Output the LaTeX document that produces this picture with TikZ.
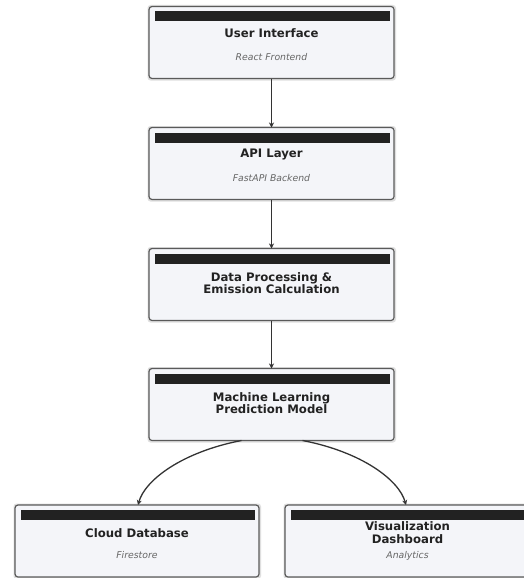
\documentclass[tikz,border=0pt]{standalone}
\usepackage{fontspec}
\setmainfont{DejaVu Sans}
\usetikzlibrary{arrows.meta,positioning,calc}
\definecolor{boxfill}{HTML}{F4F5F9}
\definecolor{boxline}{HTML}{5A5A5A}
\definecolor{barcol}{HTML}{222222}
\definecolor{subcol}{HTML}{666666}
\definecolor{edgecol}{HTML}{333333}
\tikzset{
  card/.style={draw=boxline, line width=1.2pt, fill=boxfill, rounded corners=3pt,
    minimum width=245pt, minimum height=72pt, inner sep=0pt, outer sep=0pt},
  ttl/.style={font=\fontsize{11.7}{12.3}\selectfont\bfseries, text=barcol, align=center, inner sep=0pt},
  sub/.style={font=\fontsize{9.3}{10}\selectfont\itshape, text=subcol, inner sep=0pt},
  flow/.style={draw=edgecol, line width=1.3pt, -{Stealth[length=5pt,width=5pt]}},
}
\newcommand{\cardbar}[1]{%
  \fill[gray!25, rounded corners=3pt] ([xshift=-1.5pt,yshift=1.5pt]#1.north west) rectangle ([xshift=2pt,yshift=-2pt]#1.south east);
}
\newcommand{\cardtop}[1]{%
  \fill[barcol] ([xshift=5.5pt,yshift=-5pt]#1.north west) rectangle ([xshift=-4.5pt,yshift=-15pt]#1.north east);
}
\begin{document}
\begin{tikzpicture}[x=1pt,y=-1pt]
\useasboundingbox (0,0) rectangle (524,578);
\fill[white] (0,0) rectangle (524,578);
\path (271.5,42.5) coordinate (c1) (271.5,163.5) coordinate (c2) (271.5,284.5) coordinate (c3)
      (271.5,404.5) coordinate (c4) (137,541) coordinate (c5) (407.5,541) coordinate (c6);
\node[card, draw=none, fill=none] (ui) at (c1) {};
\node[card, draw=none, fill=none] (api) at (c2) {};
\node[card, draw=none, fill=none] (dp) at (c3) {};
\node[card, draw=none, fill=none] (ml) at (c4) {};
\node[card, draw=none, fill=none, minimum width=244pt] (db) at (c5) {};
\node[card, draw=none, fill=none] (viz) at (c6) {};
\foreach \n in {ui,api,dp,ml,db,viz}{\cardbar{\n}}
\node[card] at (c1) {};
\node[card] at (c2) {};
\node[card] at (c3) {};
\node[card] at (c4) {};
\node[card, minimum width=244pt] at (c5) {};
\node[card] at (c6) {};
\foreach \n in {ui,api,dp,ml,db,viz}{\cardtop{\n}}
% texts
\node[ttl] (uit) at ([yshift=-27pt]ui.north) {User Interface};
\node[sub] (uis) at ([yshift=-50.5pt]ui.north) {React Frontend};
\node[ttl] (apit) at ([yshift=-27pt]api.north) {API Layer};
\node[sub] (apis) at ([yshift=-50.5pt]api.north) {FastAPI Backend};
\node[ttl] (dpt) at ([yshift=-34.5pt]dp.north) {Data Processing \&\\Emission Calculation};
\node[ttl] (mlt) at ([yshift=-34.5pt]ml.north) {Machine Learning\\Prediction Model};
\node[ttl] (dbt) at ([yshift=-28pt]db.north) {Cloud Database};
\node[sub] (dbs) at ([yshift=-50.5pt]db.north) {Firestore};
\node[ttl] (vizt) at ([yshift=-27.5pt]viz.north) {Visualization\\Dashboard};
\node[sub] (vizs) at ([yshift=-50.5pt]viz.north) {Analytics};
% connectors
\draw[flow] (ui.south) -- (api.north);
\draw[flow] (api.south) -- (dp.north);
\draw[flow] (dp.south) -- (ml.north);
\draw[flow] ([xshift=-30pt]ml.south) .. controls (182,452) and (145,480) .. ([xshift=1pt]db.north);
\draw[flow] ([xshift=31pt]ml.south) .. controls (362,452) and (399,480) .. ([xshift=-1.5pt]viz.north);
\end{tikzpicture}
\end{document}
